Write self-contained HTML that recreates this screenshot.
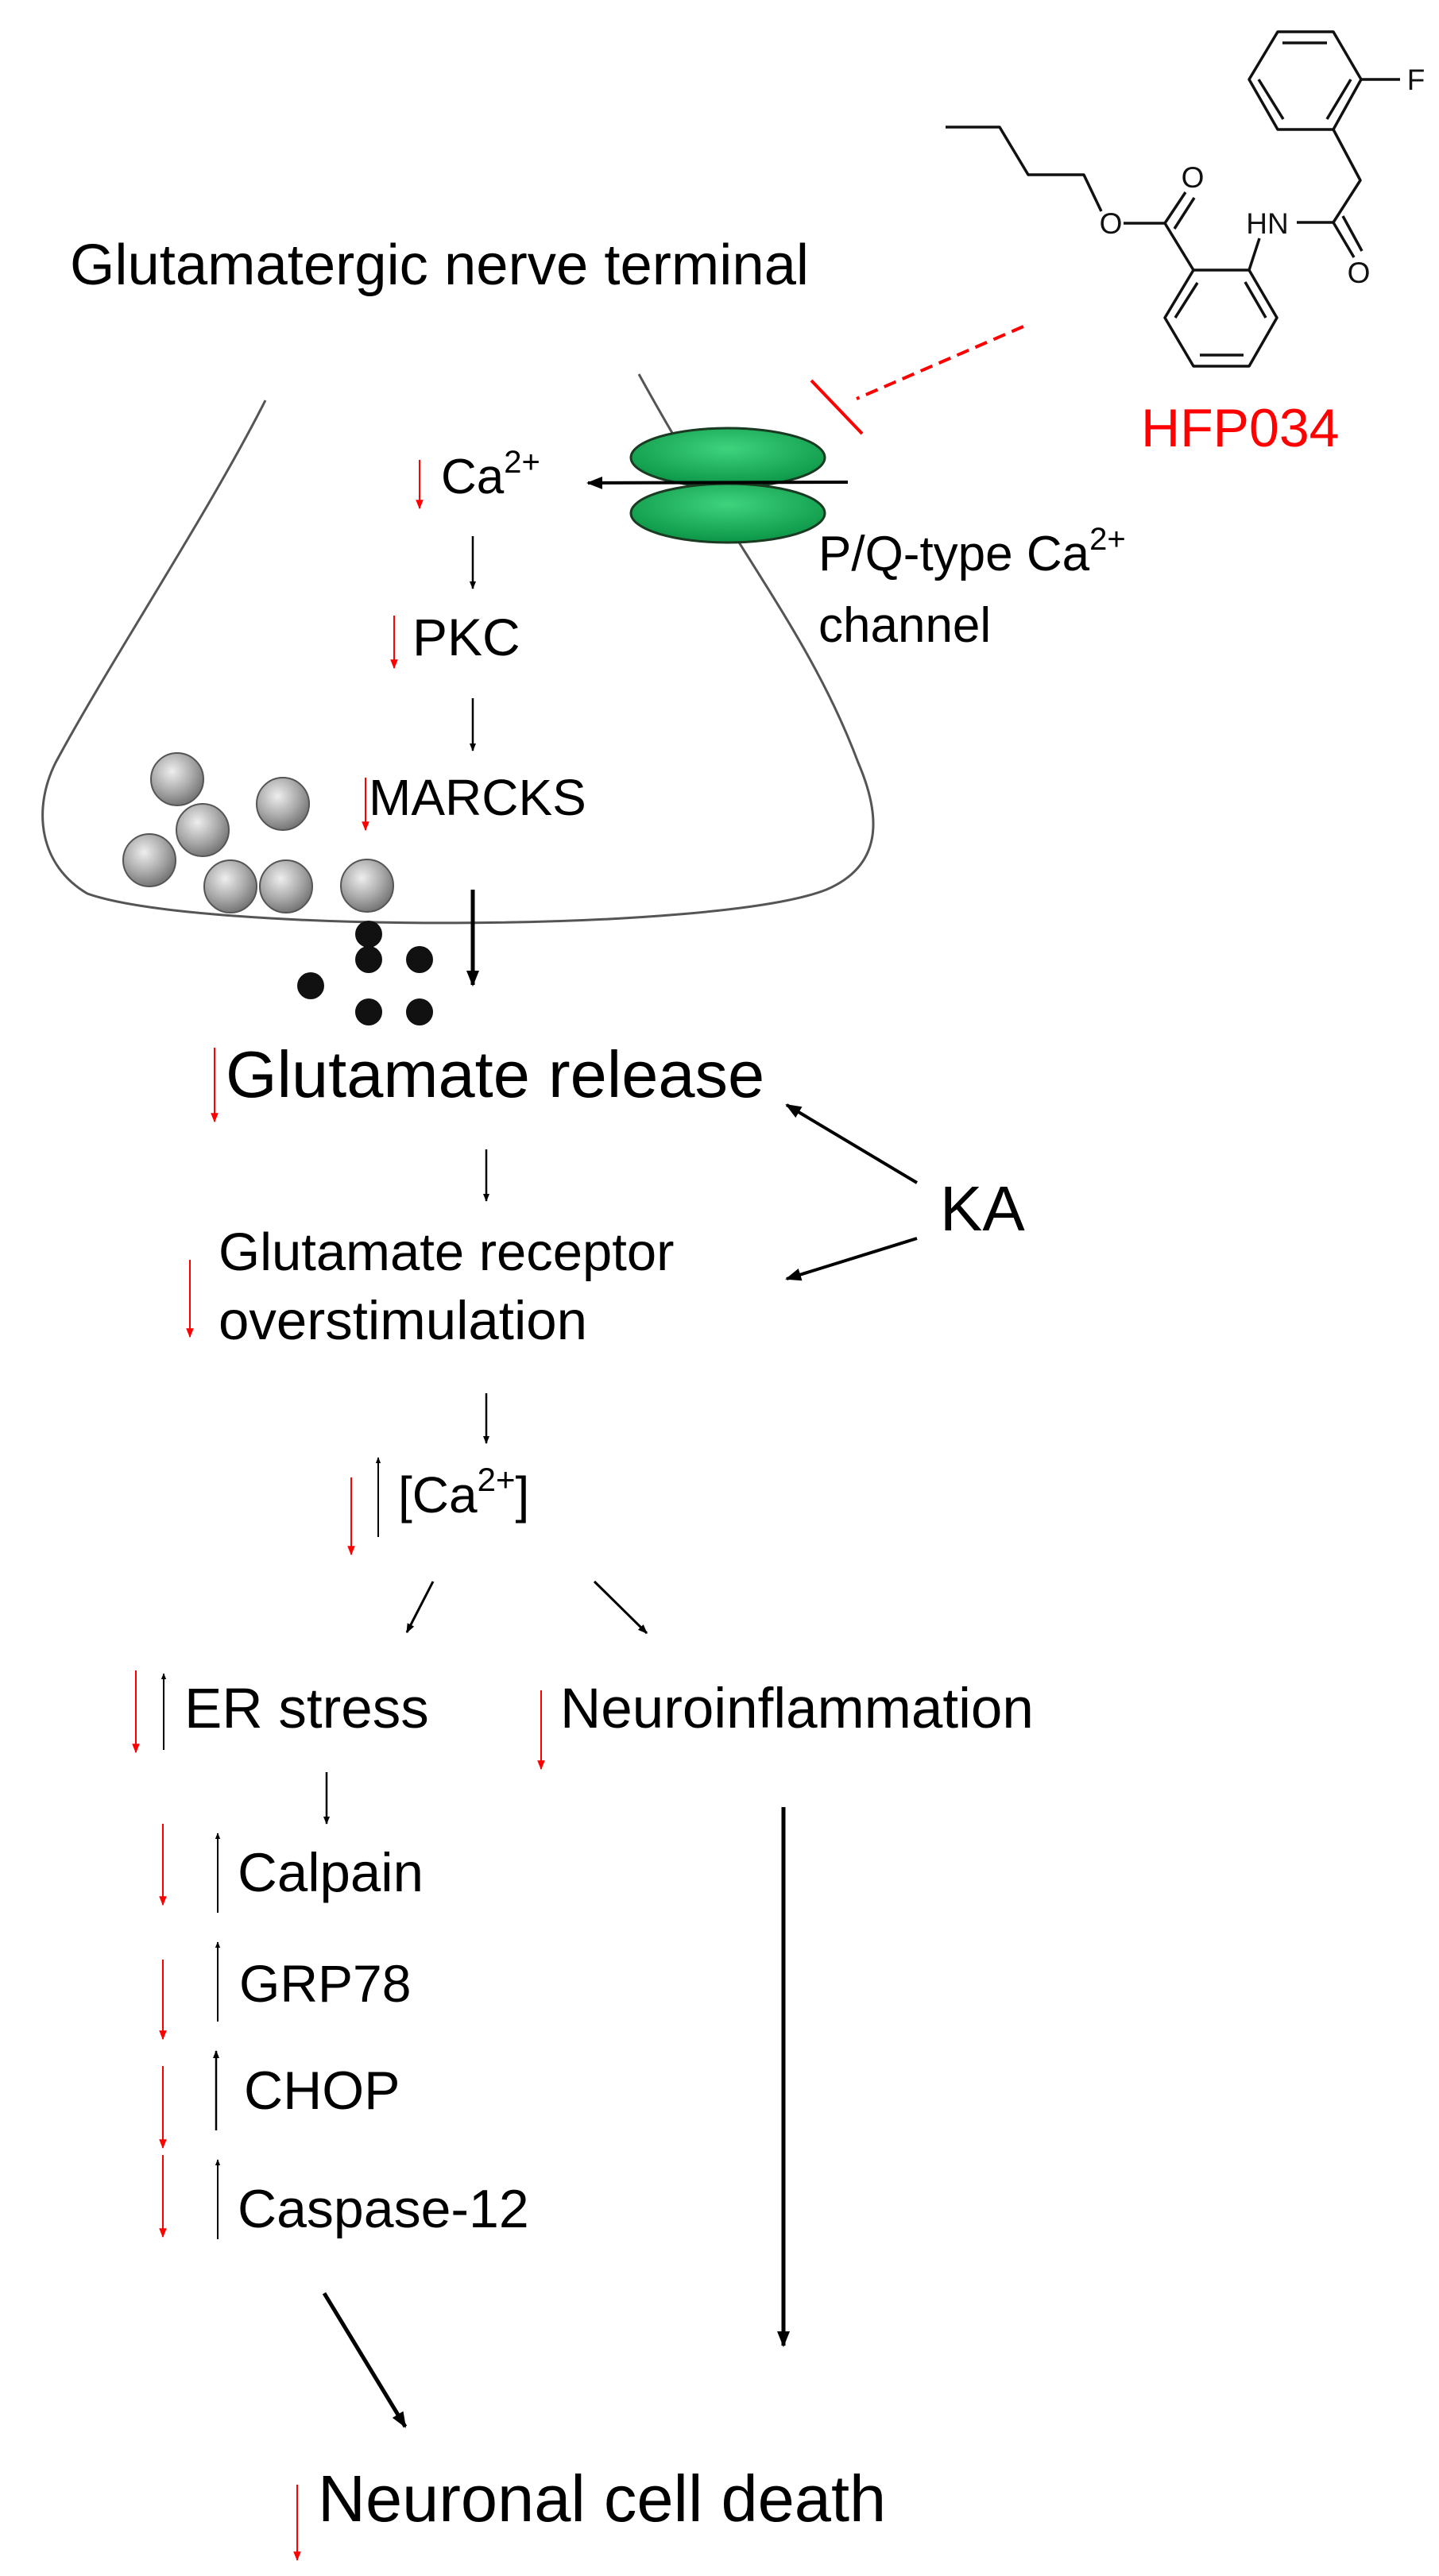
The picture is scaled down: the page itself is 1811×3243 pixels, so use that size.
<!DOCTYPE html>
<html><head><meta charset="utf-8"><style>
html,body{margin:0;padding:0;background:#fff}
svg{display:block}
text{font-family:"Liberation Sans",Arial,sans-serif}
</style></head><body>
<svg width="1811" height="3243" viewBox="0 0 1811 3243" xmlns="http://www.w3.org/2000/svg">
<defs>
<marker id="ab" viewBox="0 0 10 10" refX="9" refY="5" markerWidth="5" markerHeight="5" orient="auto" markerUnits="strokeWidth"><path d="M0,1 L10,5 L0,9 z" fill="#000"/></marker>
<marker id="ar" viewBox="0 0 10 10" refX="9" refY="5" markerWidth="6" markerHeight="6" orient="auto" markerUnits="strokeWidth"><path d="M0,1 L10,5 L0,9 z" fill="#f00"/></marker>
<marker id="abs" viewBox="0 0 10 10" refX="9" refY="5" markerWidth="4" markerHeight="4" orient="auto" markerUnits="strokeWidth"><path d="M0,1 L10,5 L0,9 z" fill="#000"/></marker>
<radialGradient id="ves" cx="40%" cy="35%" r="65%"><stop offset="0" stop-color="#eee"/><stop offset="0.6" stop-color="#aaa"/><stop offset="1" stop-color="#777"/></radialGradient>
<radialGradient id="gr" cx="50%" cy="35%" r="60%"><stop offset="0" stop-color="#3fd37e"/><stop offset="1" stop-color="#0e9a4a"/></radialGradient>
</defs>

<path d="M334,504 C260,650 140,830 70,960 C40,1020 50,1090 110,1125 C250,1175 900,1175 1040,1120 C1110,1090 1110,1030 1080,960 C1020,800 930,700 804,471" fill="none" stroke="#555" stroke-width="3"/>

<ellipse cx="916" cy="576" rx="122" ry="37" fill="url(#gr)" stroke="#1a3a22" stroke-width="3"/>
<ellipse cx="916" cy="646" rx="122" ry="37" fill="url(#gr)" stroke="#1a3a22" stroke-width="3"/>
<line x1="1067" y1="607" x2="740" y2="608" stroke="#000" stroke-width="4" marker-end="url(#ab)"/>

<line x1="1288" y1="411" x2="1078" y2="502" stroke="#f00" stroke-width="4" stroke-dasharray="16,9"/>
<line x1="1021" y1="479" x2="1085" y2="546" stroke="#f00" stroke-width="4"/>

<text x="88" y="358" font-size="72" textLength="930" lengthAdjust="spacingAndGlyphs">Glutamatergic nerve terminal</text>
<text x="1436" y="562" font-size="68" fill="#f00">HFP034</text>
<text x="555" y="621" font-size="62">Ca<tspan font-size="40" dy="-26">2+</tspan></text>
<text x="1030" y="718" font-size="62">P/Q-type Ca<tspan font-size="40" dy="-26">2+</tspan></text>
<text x="1030" y="808" font-size="62">channel</text>
<text x="519" y="825" font-size="66">PKC</text>
<text x="464" y="1026" font-size="64">MARCKS</text>

<line x1="528" y1="579" x2="528" y2="640" stroke="#f00" stroke-width="2" marker-end="url(#ar)"/>
<line x1="595" y1="675" x2="595" y2="741" stroke="#000" stroke-width="2.5" marker-end="url(#abs)"/>
<line x1="496" y1="775" x2="496" y2="841" stroke="#f00" stroke-width="2" marker-end="url(#ar)"/>
<line x1="595" y1="879" x2="595" y2="945" stroke="#000" stroke-width="2.5" marker-end="url(#abs)"/>
<line x1="460" y1="979" x2="460" y2="1045" stroke="#f00" stroke-width="2" marker-end="url(#ar)"/>

<g fill="url(#ves)" stroke="#555" stroke-width="2">
<circle cx="223" cy="981" r="33"/><circle cx="356" cy="1012" r="33"/><circle cx="255" cy="1045" r="33"/>
<circle cx="188" cy="1083" r="33"/><circle cx="290" cy="1116" r="33"/><circle cx="360" cy="1116" r="33"/><circle cx="462" cy="1115" r="33"/>
</g>
<g fill="#111">
<circle cx="464" cy="1176" r="17"/><circle cx="464" cy="1208" r="17"/><circle cx="528" cy="1208" r="17"/>
<circle cx="391" cy="1241" r="17"/><circle cx="464" cy="1274" r="17"/><circle cx="528" cy="1274" r="17"/>
</g>
<line x1="595" y1="1120" x2="595" y2="1240" stroke="#000" stroke-width="5" marker-end="url(#abs)"/>

<text x="284" y="1381" font-size="83">Glutamate release</text>
<line x1="270" y1="1319" x2="270" y2="1412" stroke="#f00" stroke-width="2" marker-end="url(#ar)"/>
<text x="1183" y="1549" font-size="80">KA</text>
<line x1="1154" y1="1489" x2="990" y2="1391" stroke="#000" stroke-width="4" marker-end="url(#ab)"/>
<line x1="1154" y1="1559" x2="990" y2="1610" stroke="#000" stroke-width="4" marker-end="url(#ab)"/>
<line x1="612" y1="1447" x2="612" y2="1512" stroke="#000" stroke-width="2.5" marker-end="url(#abs)"/>
<text x="275" y="1599" font-size="67">Glutamate receptor</text>
<text x="275" y="1686" font-size="69">overstimulation</text>
<line x1="239" y1="1586" x2="239" y2="1683" stroke="#f00" stroke-width="2" marker-end="url(#ar)"/>
<line x1="612" y1="1754" x2="612" y2="1817" stroke="#000" stroke-width="2.5" marker-end="url(#abs)"/>
<text x="501" y="1904" font-size="64">[Ca<tspan font-size="42" dy="-27">2+</tspan><tspan dy="27">]</tspan></text>
<line x1="442" y1="1860" x2="442" y2="1957" stroke="#f00" stroke-width="2" marker-end="url(#ar)"/>
<line x1="476" y1="1935" x2="476" y2="1835" stroke="#000" stroke-width="2" marker-end="url(#abs)"/>
<line x1="545" y1="1991" x2="512" y2="2055" stroke="#000" stroke-width="3" marker-end="url(#abs)"/>
<line x1="748" y1="1991" x2="814" y2="2056" stroke="#000" stroke-width="3" marker-end="url(#abs)"/>

<text x="232" y="2175" font-size="71">ER stress</text>
<line x1="171" y1="2103" x2="171" y2="2206" stroke="#f00" stroke-width="2" marker-end="url(#ar)"/>
<line x1="206" y1="2203" x2="206" y2="2107" stroke="#000" stroke-width="2" marker-end="url(#abs)"/>
<text x="705" y="2175" font-size="71">Neuroinflammation</text>
<line x1="681" y1="2128" x2="681" y2="2227" stroke="#f00" stroke-width="2" marker-end="url(#ar)"/>
<line x1="411" y1="2231" x2="411" y2="2296" stroke="#000" stroke-width="2.5" marker-end="url(#abs)"/>

<text x="299" y="2381" font-size="69">Calpain</text>
<line x1="205" y1="2296" x2="205" y2="2398" stroke="#f00" stroke-width="2" marker-end="url(#ar)"/>
<line x1="274" y1="2408" x2="274" y2="2308" stroke="#000" stroke-width="2" marker-end="url(#abs)"/>
<text x="301" y="2520" font-size="66">GRP78</text>
<line x1="205" y1="2467" x2="205" y2="2567" stroke="#f00" stroke-width="2" marker-end="url(#ar)"/>
<line x1="274" y1="2545" x2="274" y2="2445" stroke="#000" stroke-width="2" marker-end="url(#abs)"/>
<text x="307" y="2655" font-size="68">CHOP</text>
<line x1="205" y1="2601" x2="205" y2="2704" stroke="#f00" stroke-width="2" marker-end="url(#ar)"/>
<line x1="272" y1="2682" x2="272" y2="2582" stroke="#000" stroke-width="2.5" marker-end="url(#abs)"/>
<text x="299" y="2804" font-size="68">Caspase-12</text>
<line x1="205" y1="2713" x2="205" y2="2816" stroke="#f00" stroke-width="2" marker-end="url(#ar)"/>
<line x1="274" y1="2819" x2="274" y2="2719" stroke="#000" stroke-width="2" marker-end="url(#abs)"/>

<line x1="986" y1="2275" x2="986" y2="2953" stroke="#000" stroke-width="5" marker-end="url(#abs)"/>
<line x1="408" y1="2887" x2="510" y2="3055" stroke="#000" stroke-width="5" marker-end="url(#abs)"/>
<text x="400" y="3174" font-size="83">Neuronal cell death</text>
<line x1="374" y1="3128" x2="374" y2="3223" stroke="#f00" stroke-width="2" marker-end="url(#ar)"/>

<g fill="none" stroke="#111" stroke-width="3.5" stroke-linejoin="round">
<polygon points="1608,40 1678,40 1713,100 1678,163 1608,163 1572,100"/>
<line x1="1614" y1="54" x2="1670" y2="54"/>
<line x1="1584" y1="100" x2="1615" y2="150"/>
<line x1="1700" y1="100" x2="1670" y2="150"/>
<line x1="1713" y1="100" x2="1762" y2="100"/>
<polyline points="1678,163 1712,227 1678,280 1632,280"/>
<line x1="1678" y1="280" x2="1704" y2="324"/>
<line x1="1690" y1="272" x2="1714" y2="316"/>
<line x1="1585" y1="300" x2="1572" y2="340"/>
<polygon points="1502,340 1572,340 1607,400 1572,461 1502,461 1466,400"/>
<line x1="1567" y1="355" x2="1593" y2="400"/>
<line x1="1510" y1="447" x2="1565" y2="447"/>
<line x1="1479" y1="400" x2="1507" y2="356"/>
<polyline points="1502,340 1466,281 1414,281"/>
<line x1="1466" y1="281" x2="1492" y2="242"/>
<line x1="1478" y1="288" x2="1503" y2="249"/>
<polyline points="1386,266 1364,220 1294,220 1258,160 1190,160"/>
</g>
<g font-size="37" fill="#111" text-anchor="middle">
<text x="1782" y="113">F</text>
<text x="1501" y="236">O</text>
<text x="1398" y="294">O</text>
<text x="1595" y="294">HN</text>
<text x="1710" y="356">O</text>
</g>
</svg>
</body></html>
